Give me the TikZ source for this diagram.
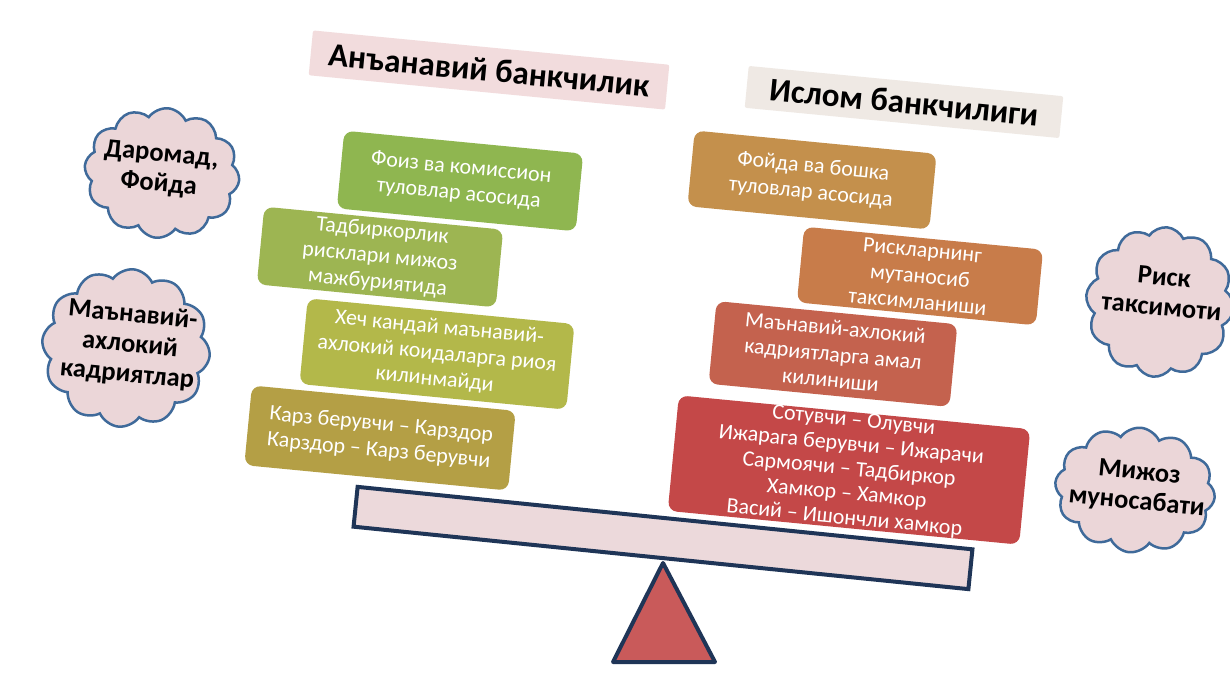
\documentclass[tikz,border=0pt]{standalone}
\usepackage{fontspec}
\setmainfont{Carlito}
\usetikzlibrary{shapes.symbols,shapes.geometric}
\definecolor{gA}{HTML}{8FB650}
\definecolor{gB}{HTML}{9DB552}
\definecolor{gC}{HTML}{B3B84A}
\definecolor{gD}{HTML}{B49F45}
\definecolor{rA}{HTML}{C4904C}
\definecolor{rB}{HTML}{C87C4A}
\definecolor{rC}{HTML}{C4624E}
\definecolor{rD}{HTML}{C44848}
\definecolor{titleA}{HTML}{F2DCDD}
\definecolor{titleB}{HTML}{EFE9E4}
\definecolor{cloudfill}{HTML}{EBD6D8}
\definecolor{cloudline}{HTML}{3F6A9A}
\definecolor{navy}{HTML}{1F3557}
\definecolor{beamfill}{HTML}{ECD9DB}
\definecolor{trifill}{HTML}{C95A5A}
\tikzset{
  box/.style={rectangle, rounded corners=9pt, text=white, align=center,
    font=\fontsize{22}{26}\selectfont, rotate=-5.5, inner sep=0pt},
  titlebox/.style={rectangle, rounded corners=2pt, text=black,
    font=\fontsize{33}{38}\selectfont\bfseries, rotate=-5.5, inner sep=0pt},
  cloudshape/.style={cloud, cloud puffs=12, cloud puff arc=120, draw=cloudline,
    line width=2.5pt, fill=cloudfill, rotate=-5.5, inner sep=0pt},
  cloudtext/.style={font=\fontsize{26.5}{30}\selectfont\bfseries, align=center,
    rotate=-5.5, text=black}
}
\begin{document}
\begin{tikzpicture}[x=1pt,y=-1pt]
\useasboundingbox (0,0) rectangle (1230,684);
\fill[white] (0,0) rectangle (1230,684);
% titles
\node[titlebox, fill=titleA, minimum width=358pt, minimum height=45pt] (t1) at (489,70) {Анъанавий банкчилик};
\node[titlebox, fill=titleB, minimum width=316pt, minimum height=42pt] (t2) at (904,102) {Ислом банкчилиги};
% left boxes
\node[box, fill=gA, minimum width=240pt, minimum height=78pt] (l1) at (460,181) {Фоиз ва комиссион\\туловлар асосида};
\node[box, fill=gB, minimum width=240pt, minimum height=78pt] (l2) at (380,257) {Тадбиркорлик\\рисклари мижоз\\мажбуриятида};
\node[box, fill=gC, minimum width=268pt, minimum height=86pt] (l3) at (437,354) {Хеч кандай маънавий-\\ахлокий коидаларга риоя\\килинмайди};
\node[box, fill=gD, minimum width=265pt, minimum height=80pt] (l4) at (380,438) {Карз берувчи -- Карздор\\Карздор -- Карз берувчи};
% right boxes
\node[box, fill=rA, minimum width=243pt, minimum height=76pt] (r1) at (812,180) {Фойда ва бошка\\туловлар асосида};
\node[box, fill=rB, minimum width=240pt, minimum height=76pt] (r2) at (920,276) {Рискларнинг\\мутаносиб\\таксимланиши};
\node[box, fill=rC, minimum width=242pt, minimum height=83pt] (r3) at (833,354) {Маънавий-ахлокий\\кадриятларга амал\\килиниши};
\node[box, fill=rD, minimum width=353pt, minimum height=116pt, font=\fontsize{22}{24.5}\selectfont] (r4) at (849,470) {Сотувчи -- Олувчи\\Ижарага берувчи -- Ижарачи\\Сармоячи -- Тадбиркор\\Хамкор -- Хамкор\\Васий -- Ишончли хамкор};
% clouds
\node[cloudshape, minimum width=155pt, minimum height=130pt] (c1) at (162,173) {};
\node[cloudtext] (c1t) at (160,170) {Даромад,\\Фойда};
\node[cloudshape, minimum width=168pt, minimum height=158pt] (c2) at (126,348) {};
\node[cloudtext] (c2t) at (130,345) {Маънавий-\\ахлокий\\кадриятлар};
\node[cloudshape, minimum width=148pt, minimum height=150pt] (c3) at (1160,302) {};
\node[cloudtext] (c3t) at (1163,292) {Риск\\таксимоти};
\node[cloudshape, minimum width=160pt, minimum height=125pt] (c4) at (1135,490) {};
\node[cloudtext] (c4t) at (1138,488) {Мижоз\\муносабати};
% seesaw
\node[rectangle, draw=navy, line width=4pt, fill=beamfill, minimum width=618pt, minimum height=40pt, rotate=-5.8] (beam) at (663,538) {};
\draw[draw=navy, line width=4pt, fill=trifill, line join=round] (663,563) -- (715,662) -- (613,662) -- cycle;
\end{tikzpicture}
\end{document}
